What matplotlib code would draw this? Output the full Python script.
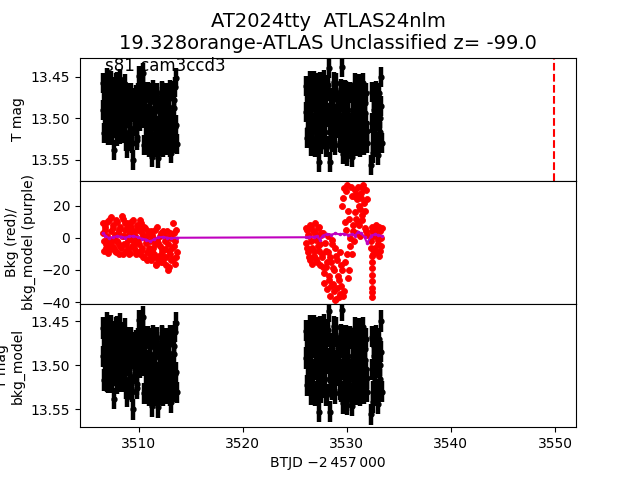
import matplotlib
matplotlib.use('Agg')
import matplotlib.pyplot as plt
import numpy as np

# light curve, TESS sector 81 cam3 ccd3
t_seg1 = [3506.55, 3506.65, 3506.75, 3506.85, 3506.95, 3507.05, 3507.15, 3507.25, 3507.35, 3507.45,
          3507.55, 3507.65, 3507.75, 3507.85, 3507.95, 3508.05, 3508.15, 3508.25, 3508.35, 3508.45,
          3508.55, 3508.65, 3508.75, 3508.85, 3508.95, 3509.05, 3509.15, 3509.25, 3509.35, 3509.45,
          3509.55, 3509.65, 3509.75, 3509.85, 3509.95, 3510.05, 3510.15, 3510.25, 3510.35, 3510.45,
          3510.55, 3510.65, 3510.75, 3510.85, 3510.95, 3511.05, 3511.15, 3511.25, 3511.35, 3511.45,
          3511.55, 3511.65, 3511.75, 3511.85, 3511.95, 3512.05, 3512.15, 3512.25, 3512.35, 3512.45,
          3512.55, 3512.65, 3512.75, 3512.85, 3512.95, 3513.05, 3513.15, 3513.25, 3513.35, 3513.45,
          3513.55, 3513.65]
mag_seg1 = [13.458, 13.517, 13.478, 13.499, 13.452, 13.520, 13.482, 13.497, 13.455, 13.516,
            13.476, 13.538, 13.500, 13.457, 13.521, 13.480, 13.498, 13.453, 13.518, 13.477,
            13.502, 13.459, 13.527, 13.536, 13.471, 13.492, 13.512, 13.469, 13.529, 13.550,
            13.489, 13.509, 13.472, 13.526, 13.491, 13.449, 13.503, 13.467, 13.486, 13.445,
            13.532, 13.490, 13.510, 13.468, 13.534, 13.488, 13.512, 13.547, 13.466, 13.531,
            13.491, 13.509, 13.469, 13.548, 13.533, 13.487, 13.511, 13.467, 13.535, 13.490,
            13.508, 13.470, 13.532, 13.489, 13.513, 13.466, 13.542, 13.530, 13.488, 13.510,
            13.452, 13.531]
bkg_seg1 = [9.5, -2, 5, -6, 1, -9.5, 11, -3, 13, -2,
            6, -6, 2, -9, 10, -3, 5, -5, 13.5, -10,
            1, 9, -4, 6, -7, 2, -9.5, 10, -1, 4,
            -6, 1, -10, 8, 7, -4, 11, -8, 3, -12,
            7, 0, -13.5, 4, -6, -10, 4, -8, 0, -12,
            -4, -16, 7, -3, -11, 1, -15, -7, 4, -12,
            -2, -17, 0, -20, -8, 3, -14, 9, -5, -16,
            5, -9]

t_half1 = [3506.60, 3506.70, 3506.80, 3506.90, 3507.00, 3507.10, 3507.20, 3507.30, 3507.40, 3507.50,
           3507.60, 3507.70, 3507.80, 3507.90, 3508.00, 3508.10, 3508.20, 3508.30, 3508.40, 3508.50,
           3508.60, 3508.70, 3508.80, 3508.90, 3509.00, 3509.10, 3509.20, 3509.30, 3509.40, 3509.50,
           3509.60, 3509.70, 3509.80, 3509.90, 3510.00, 3510.10, 3510.20, 3510.30, 3510.40, 3510.50,
           3510.60, 3510.70, 3510.80, 3510.90, 3511.00, 3511.10, 3511.20, 3511.30, 3511.40, 3511.50,
           3511.60, 3511.70, 3511.80, 3511.90, 3512.00, 3512.10, 3512.20, 3512.30, 3512.40, 3512.50,
           3512.60, 3512.70, 3512.80, 3512.90, 3513.00, 3513.10, 3513.20, 3513.30, 3513.40, 3513.50,
           3513.60]
mag_half1 = [13.490, 13.466, 13.510, 13.458, 13.518, 13.485, 13.470, 13.505, 13.520, 13.462,
             13.495, 13.478, 13.512, 13.456, 13.500, 13.474, 13.519, 13.487, 13.463, 13.508,
             13.481, 13.516,
             13.500, 13.480, 13.527, 13.469, 13.515, 13.492, 13.530, 13.475, 13.505, 13.485,
             13.522, 13.470, 13.498,
             13.478, 13.450, 13.495, 13.460,
             13.500, 13.478, 13.522, 13.468, 13.532, 13.495, 13.480, 13.515, 13.470, 13.528,
             13.500, 13.486, 13.534, 13.474, 13.510, 13.492, 13.525, 13.468, 13.505, 13.480,
             13.530, 13.497, 13.472, 13.518, 13.486, 13.535, 13.467, 13.502, 13.520, 13.478,
             13.462, 13.508]
bkg_half1 = [3, -8, 7, -4, 10, -1, -7,
             4, -5, 8, 0, -8, 11, -2, 3, -10, 7, -6, 1, 12, -4, 5, -8, 9, -1, -10, 3, 7, -5, 11, -3, -8, 5,
             -1, 5, -10, 9, -6, 1, -12, 6, -3, -9, 2, -13,
             -2, -14, 2, -6, -10, 5, -17, -1, -13, -5, 3, -9, -15, 1, -7, -12, 4, -4, -18, -10, 0, -6, -13,
             3, -2, -12]

t_seg2 = [3526.05, 3526.15, 3526.25, 3526.35, 3526.45, 3526.55, 3526.65, 3526.75, 3526.85, 3526.95,
          3527.05, 3527.15, 3527.25, 3527.35, 3527.45, 3527.55, 3527.65, 3527.75, 3527.85, 3527.95,
          3528.05, 3528.15, 3528.25, 3528.35, 3528.45, 3528.55, 3528.65, 3528.75, 3528.85, 3528.95,
          3529.05, 3529.15, 3529.25, 3529.35, 3529.45, 3529.55, 3529.65, 3529.75, 3529.85, 3529.95,
          3530.05, 3530.15, 3530.25, 3530.35, 3530.45, 3530.55, 3530.65, 3530.75, 3530.85, 3530.95,
          3531.05, 3531.15, 3531.25, 3531.35, 3531.45, 3531.55, 3531.65, 3531.75, 3531.85, 3531.95,
          3532.35, 3532.45, 3532.55, 3532.65, 3532.75, 3532.85, 3532.95, 3533.05, 3533.15, 3533.25,
          3533.35]
mag_seg2 = [13.461, 13.523, 13.482, 13.502, 13.455, 13.533, 13.480, 13.507, 13.455, 13.534,
            13.494, 13.468, 13.519, 13.553, 13.456, 13.531, 13.481, 13.506, 13.454, 13.535,
            13.493, 13.467, 13.439, 13.553, 13.520, 13.482, 13.508, 13.456, 13.532, 13.457,
            13.511, 13.479, 13.495, 13.528, 13.465, 13.438, 13.543, 13.492, 13.518, 13.467,
            13.545, 13.490, 13.517, 13.468, 13.546, 13.493, 13.519, 13.458, 13.533, 13.482,
            13.508, 13.459, 13.534, 13.481, 13.507, 13.457, 13.532, 13.494, 13.470, 13.515,
            13.556, 13.468, 13.542, 13.490, 13.518, 13.467, 13.544, 13.491, 13.516, 13.450,
            13.530]
bkg_seg2 = [6, -6, 2, -12, 8, -2, -16, 4, -8, 9,
            -13, 0, -5, 7, -17, 3, -10, 3, -22, -8,
            -15, 1, -26, -12, -30, -4, -19, -33, -6, -38,
            -14, -24, -37, -9, -30, 20, -36, 31, -15, 5,
            33, -25, 12, -5, 26, 4, -2, 30, 12, 24,
            32, 8, 18, 28, 14, 31, 22, 6, 30, 2,
            -2, 7, -10, 3, -6, 8, -1, -11, 4, -5,
            6]

t_half2 = [3526.10, 3526.20, 3526.30, 3526.40, 3526.50, 3526.60, 3526.70, 3526.80, 3526.90, 3527.00,
           3527.10, 3527.20, 3527.30, 3527.40, 3527.50, 3527.60, 3527.70, 3527.80, 3527.90, 3528.00,
           3528.10, 3528.20, 3528.30, 3528.40, 3528.50, 3528.60, 3528.70, 3528.80, 3528.90, 3529.00,
           3529.10, 3529.20, 3529.30, 3529.40, 3529.50, 3529.60, 3529.70, 3529.80, 3529.90, 3530.00,
           3530.10, 3530.20, 3530.30, 3530.40, 3530.50, 3530.60, 3530.70, 3530.80, 3530.90, 3531.00,
           3531.10, 3531.20, 3531.30, 3531.40, 3531.50, 3531.60, 3531.70, 3531.80, 3531.90,
           3532.40, 3532.50, 3532.60, 3532.70, 3532.80, 3532.90, 3533.00, 3533.10, 3533.20, 3533.30]
mag_half2 = [13.492, 13.470, 13.512, 13.522, 13.475,
             13.495, 13.520, 13.468, 13.505, 13.482, 13.530, 13.458, 13.512, 13.490, 13.472,
             13.525, 13.500, 13.465, 13.516, 13.485, 13.533, 13.460, 13.498, 13.508, 13.476,
             13.528, 13.490, 13.468,
             13.495, 13.468, 13.503,
             13.512, 13.480, 13.530,
             13.505, 13.480, 13.530, 13.466, 13.500, 13.540, 13.478, 13.528, 13.505, 13.470,
             13.532,
             13.470, 13.495, 13.520, 13.466, 13.500, 13.528, 13.475, 13.512, 13.490, 13.466,
             13.520, 13.482, 13.505, 13.530,
             13.505, 13.530, 13.478, 13.535, 13.503, 13.480, 13.528, 13.470, 13.500, 13.485]
bkg_half2 = [-3, 5, -9, 1, -14, 7, -6, -11, 3, -1, -15, 6, -8, -4, 2, -12, -18,
             -28, -3, -18, -32, -9, -24, -36, -15, -1, -29,
             -20, -39, -11, -31, -26, -35, -17, -20, 25, -33,
             10, 29, -10, 17, -20, 0, 32, -10, 8, 26,
             16, 3, 27, 10, 20, 1, 25, 11, 33, 17,
             4, 24,
             4, -7, 1, 5, -9, 2, -4, 7, -8, 0]

# quick background drop at the start of the last strip
t_bkg_drop = [3532.36, 3532.37, 3532.37, 3532.38, 3532.38, 3532.39, 3532.39, 3532.40, 3532.40]
bkg_drop = [-6, -11, -15, -19, -23, -27, -31, -34, -37]

t_model = [3506.55, 3506.8, 3507.1, 3507.5, 3507.9, 3508.3, 3508.7, 3509.1, 3509.5, 3509.9,
           3510.3, 3510.7, 3511.1, 3511.5, 3511.9, 3512.3, 3512.7, 3513.1, 3513.65, 3526.05,
           3526.4, 3526.8, 3527.1, 3527.4, 3527.7, 3528.1, 3528.5, 3528.9, 3529.3, 3529.7,
           3530.1, 3530.5, 3530.8, 3531.1, 3531.4, 3531.7, 3531.95, 3532.35, 3532.7, 3533.0,
           3533.35]
bkg_model = [2.8, 1.5, 0.0, 0.5, 1.0, 0.8, 0.2, 0.9, 1.2, 0.4,
             -0.5, -1.0, -2.2, -0.8, 0.3, 0.6, 0.2, -0.3, 0.1, 0.4,
             0.8, 0.5, 1.2, -1.0, 1.5, 2.5, 2.0, 2.8, 2.2, 2.6,
             1.8, 2.4, 1.5, 3.8, 2.8, 0.5, -3.3, 1.5, 2.2, 1.8,
             1.2]

mag_err = 0.012
t_disc = 3549.86

t_all = np.array(t_seg1 + t_half1 + t_seg2 + t_half2)
mag_all = np.array(mag_seg1 + mag_half1 + mag_seg2 + mag_half2)
bkg_t = np.array(t_seg1 + t_half1 + t_seg2 + t_half2 + t_bkg_drop)
bkg_all = np.array(bkg_seg1 + bkg_half1 + bkg_seg2 + bkg_half2 + bkg_drop)

fig, (ax1, ax2, ax3) = plt.subplots(3, 1, sharex=True, figsize=(6.4, 4.8))
fig.subplots_adjust(hspace=0)

ax1.errorbar(t_all, mag_all, yerr=mag_err, fmt='.', color='k', ms=7,
             elinewidth=3.2, capsize=0)
ax1.axvline(t_disc, color='r', ls='--', lw=1.5)
ax1.set_ylim(13.575, 13.427)
ax1.set_yticks([13.45, 13.50, 13.55])
ax1.set_ylabel('T mag')
ax1.set_title('AT2024tty  ATLAS24nlm\n19.328orange-ATLAS Unclassified z= -99.0', fontsize=14)
ax1.text(0.05, 0.89, 's81 cam3ccd3', transform=ax1.transAxes, fontsize=12)

ax2.plot(bkg_t, bkg_all, ls='none', marker='o', ms=4.3, color='r', mew=0.6)
ax2.plot(t_model, bkg_model, color='m', lw=1.5, marker='.', ms=3)
ax2.set_ylim(-41.2, 35.6)
ax2.set_yticks([-40, -20, 0, 20])
ax2.set_ylabel('Bkg (red)/\nbkg_model (purple)')

ax3.errorbar(t_all, mag_all, yerr=mag_err, fmt='.', color='k', ms=7,
             elinewidth=3.2, capsize=0)
ax3.set_ylim(13.5705, 13.4307)
ax3.set_yticks([13.45, 13.50, 13.55])
ax3.set_ylabel('T mag\nbkg_model')

for ax in (ax1, ax2):
    ax.tick_params(axis='x', bottom=False, labelbottom=False)

ax3.set_xlim(3504.36, 3552.02)
ax3.set_xlabel('BTJD \u22122\u2009457\u2009000')

fig.savefig('out.png', dpi=100)
